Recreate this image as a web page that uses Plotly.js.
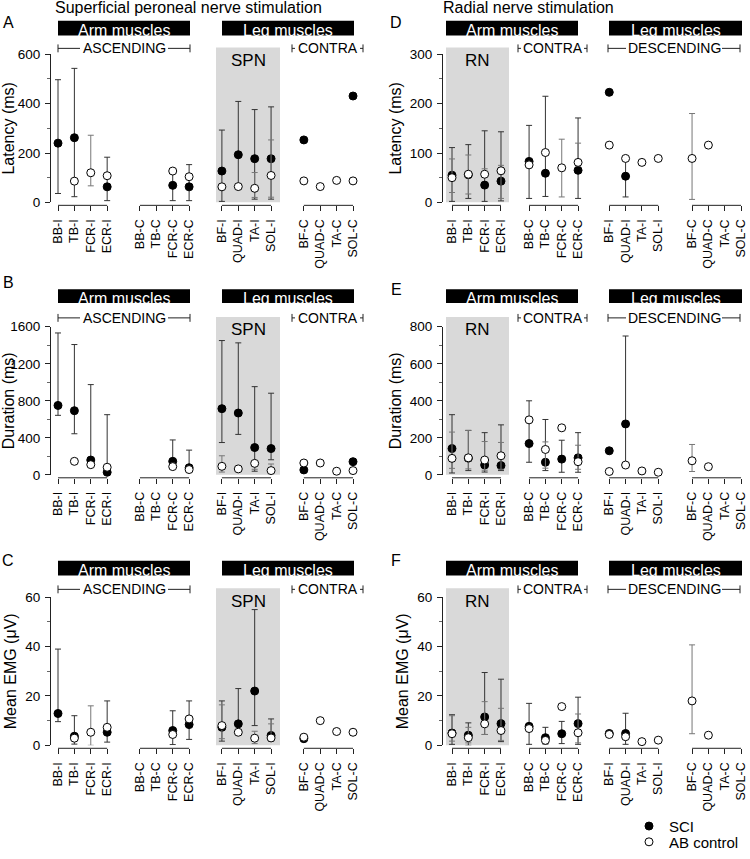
<!DOCTYPE html>
<html>
<head>
<meta charset="utf-8">
<script src="https://cdn.plot.ly/plotly-3.0.1.min.js"></script>
<style>
  html, body { margin: 0; padding: 0; background: #fff; overflow: hidden; }
  #plot { width: 750px; height: 859px; }
</style>
</head>
<body>
<div id="plot"></div>
<script>
var muscles = ['BB-I','TB-I','FCR-I','ECR-I','BB-C','TB-C','FCR-C','ECR-C',
               'BF-I','QUAD-I','TA-I','SOL-I','BF-C','QUAD-C','TA-C','SOL-C'];

// A - latency, superficial peroneal nerve
var latSpnSci   = [240, 262, null, 63, null, null, 69, 63, 127, 193, 177, 177, 253, null, null, 431];
var latSpnSciLo = [36, 23, null, 7, null, null, 7, 7, 4, 64, 13, 13, null, null, null, null];
var latSpnSciHi = [497, 543, null, 183, null, null, 118, 153, 293, 409, 376, 387, null, null, null, null];
var latSpnAb    = [null, 86, 120, 108, null, null, 127, 104, 63, 64, 57, 109, 87, 64, 89, 87];
var latSpnAbLo  = [null, null, 67, null, null, null, null, null, null, null, 20, 21, null, null, null, null];
var latSpnAbHi  = [null, null, 272, null, null, null, null, null, null, null, 121, 253, null, null, null, null];

// B - duration, superficial peroneal nerve
var durSpnSci   = [750, 693, 160, 28, null, null, 146, 77, 715, 668, 295, 284, 53, null, null, 142];
var durSpnSciLo = [643, 444, 160, 28, null, null, 146, 77, 349, 437, 39, 163, null, null, null, null];
var durSpnSciHi = [1533, 1408, 975, 650, null, null, 377, 267, 1451, 1426, 953, 882, null, null, null, null];
var durSpnAb    = [null, 146, 110, 82, null, null, 89, 57, 92, 64, 124, 46, 128, 128, 39, 46];
var durSpnAbLo  = [null, null, null, null, null, null, null, null, 30, null, 60, 46, null, null, null, null];
var durSpnAbHi  = [null, null, null, null, null, null, null, null, 206, null, 150, 117, null, null, null, null];

// C - mean EMG, superficial peroneal nerve
var emgSpnSci   = [12.9, 3.7, null, 5.3, null, null, 6, 8.4, 7.3, 8.7, 22, 4, 2.7, null, null, null];
var emgSpnSciLo = [9.6, 0.5, null, 1.3, null, null, 0.3, 2.4, 1.7, 5.3, 8, 1.7, null, null, null, null];
var emgSpnSciHi = [39, 12, null, 18, null, null, 14, 18, 18, 23, 55, 10.7, null, null, null, null];
var emgSpnAb    = [null, 2.9, 5.3, 7.3, null, null, 4.4, 10.7, 8, 5.3, 2.9, 3, 3.3, 10, 5.6, 5.3];
var emgSpnAbLo  = [null, null, 0, null, null, null, null, null, 2.7, null, 0.7, 3, null, null, null, null];
var emgSpnAbHi  = [null, null, 16, null, null, null, null, null, 16.4, null, 5.7, 8.7, null, null, null, null];

// D - latency, radial nerve
var latRnSci   = [55, 56, 35, 43, 83, 59, null, 65, 223, 53, null, null, null, null, null, null];
var latRnSciLo = [2, 8, 2, 3, 8, 12, null, 8, null, 11, null, null, null, null, null, null];
var latRnSciHi = [111, 117, 145, 143, 156, 215, null, 171, null, 89, null, null, null, null, null, null];
var latRnAb    = [50, 57, 57, 64, 76, 101, 70, 81, 116, 89, 81, 89, 89, 116, null, null];
var latRnAbLo  = [20, 17, 57, 8, null, null, 11, 81, null, null, null, null, 6, null, null, null];
var latRnAbHi  = [88, 96, 68, 75, null, null, 128, 120, null, null, null, null, 180, null, null, null];

// E - duration, radial nerve
var durRnSci   = [142, 90, 53, 50, 169, 68, 85, 92, 130, 275, null, null, null, null, null, null];
var durRnSciLo = [10, 23, 15, 23, 68, 23, 14, 14, null, 53, null, null, null, null, null, null];
var durRnSciHi = [325, 240, 228, 270, 400, 299, 187, 228, null, 750, null, null, null, null, null, null];
var durRnAb    = [89, 92, 80, 103, 297, 137, 254, 71, 18, 53, 21, 14, 76, 44, null, null];
var durRnAbLo  = [35, 32, 25, 30, null, 36, null, 30, null, null, null, null, 18, null, null, null];
var durRnAbHi  = [231, 240, 180, 175, null, 178, null, 160, null, null, null, null, 164, null, null, null];

// F - mean EMG, radial nerve
var emgRnSci   = [5, 4.1, 11.5, 8.8, 7.7, 3.1, 4.7, 8.8, 4.8, 4.8, null, null, null, null, null, null];
var emgRnSciLo = [0.4, 0, 4.4, 1.5, 0.4, 0.5, 0.7, 0.4, null, 0.4, null, null, null, null, null, null];
var emgRnSciHi = [12.4, 9.1, 29.5, 26.8, 17, 7.3, 9.7, 19.5, null, 13, null, null, null, null, null, null];
var emgRnAb    = [4.7, 3.1, 8.7, 6, 6.8, 2, 15.7, 5.1, 4.4, 3.5, 1.5, 2.1, 18, 4.1, null, null];
var emgRnAbLo  = [1.7, 1, 4.4, 2, null, null, null, 1, null, null, null, null, 4.7, null, null, null];
var emgRnAbHi  = [12, 7.3, 17.7, 15, null, null, null, 12.7, null, null, null, null, 40.7, null, null, null];

var FONT = 'Liberation Sans, Arial, sans-serif';
var W = 750, H = 859;
function px(x) { return x / W; }
function py(y) { return 1 - y / H; }

// column geometry (pixels)
var cols = [
  { dom: [51, 360], x0: 58, unit: 16.39, groups: [0, 5, 10, 15], shade: [216, 280], shadeText: 'SPN',
    arm: [58, 190], leg: [222, 354], longBr: [58, 190], longText: 'ASCENDING', longHalf: 44, contra: [292, 363] },
  { dom: [443, 745], x0: 452, unit: 16.33, groups: [0, 4.72, 9.63, 14.7], shade: [446, 509], shadeText: 'RN',
    arm: [446, 578], leg: [609, 742], longBr: [608, 740], longText: 'DESCENDING', longHalf: 48, contra: [518, 587] }
];
var rows = [
  { top: 55, bot: 205, axisY: 208, boxT: 21, boxB: 36, brY: 49, shadeT: 48, letterY: [23, 23] },
  { top: 331, bot: 481, axisY: 484, boxT: 293, boxB: 307, brY: 322, shadeT: 321, letterY: [286, 293] },
  { top: 605, bot: 755, axisY: 758, boxT: 568, boxB: 583, brY: 597, shadeT: 596, letterY: [568, 568] }
];

var panels = [
  { col: 0, row: 0, letter: 'A', ytitle: 'Latency (ms)', range: [0, 600], dtick: 200,
    d: [latSpnSci, latSpnSciLo, latSpnSciHi, latSpnAb, latSpnAbLo, latSpnAbHi] },
  { col: 0, row: 1, letter: 'B', ytitle: 'Duration (ms)', range: [0, 1600], dtick: 400,
    d: [durSpnSci, durSpnSciLo, durSpnSciHi, durSpnAb, durSpnAbLo, durSpnAbHi] },
  { col: 0, row: 2, letter: 'C', ytitle: 'Mean EMG (\u03bcV)', range: [0, 60], dtick: 20,
    d: [emgSpnSci, emgSpnSciLo, emgSpnSciHi, emgSpnAb, emgSpnAbLo, emgSpnAbHi] },
  { col: 1, row: 0, letter: 'D', ytitle: 'Latency (ms)', range: [0, 300], dtick: 100,
    d: [latRnSci, latRnSciLo, latRnSciHi, latRnAb, latRnAbLo, latRnAbHi] },
  { col: 1, row: 1, letter: 'E', ytitle: 'Duration (ms)', range: [0, 800], dtick: 200,
    d: [durRnSci, durRnSciLo, durRnSciHi, durRnAb, durRnAbLo, durRnAbHi] },
  { col: 1, row: 2, letter: 'F', ytitle: 'Mean EMG (\u03bcV)', range: [0, 60], dtick: 20,
    d: [emgRnSci, emgRnSciLo, emgRnSciHi, emgRnAb, emgRnAbLo, emgRnAbHi] }
];

function errs(v, lo, hi) {
  var plus = [], minus = [];
  for (var i = 0; i < v.length; i++) {
    plus.push(v[i] != null && hi[i] != null ? hi[i] - v[i] : 0);
    minus.push(v[i] != null && lo[i] != null ? v[i] - lo[i] : 0);
  }
  return { plus: plus, minus: minus };
}

var traces = [];
var layout = {
  width: W, height: H,
  margin: { l: 0, r: 0, t: 0, b: 0 },
  paper_bgcolor: '#fff', plot_bgcolor: 'rgba(0,0,0,0)',
  font: { family: FONT, color: '#000', size: 13 },
  showlegend: true,
  legend: { x: px(629), y: py(837), xanchor: 'left', yanchor: 'middle', font: { size: 15, family: FONT },
            itemwidth: 30, bgcolor: 'rgba(0,0,0,0)' },
  legend2: { x: px(629), y: py(853), xanchor: 'left', yanchor: 'middle', font: { size: 15, family: FONT },
             itemwidth: 30, bgcolor: 'rgba(0,0,0,0)' },
  shapes: [], annotations: []
};

function line(x0, y0, x1, y1) {
  layout.shapes.push({ type: 'line', xref: 'paper', yref: 'paper', x0: px(x0), y0: py(y0), x1: px(x1), y1: py(y1),
    line: { color: '#222', width: 1 } });
}
function text(t, x, y, size, color) {
  layout.annotations.push({ text: t, xref: 'paper', yref: 'paper', x: px(x), y: py(y), showarrow: false,
    font: { family: FONT, size: size, color: color || '#000' }, xanchor: 'center', yanchor: 'middle' });
}

panels.forEach(function(p, k) {
  var c = cols[p.col], r = rows[p.row];
  var sfx = k === 0 ? '' : String(k + 1);
  var xa = 'x' + sfx, ya = 'y' + sfx;
  var xpos = muscles.map(function(m, i) { return c.groups[Math.floor(i / 4)] + (i % 4); });

  var es = errs(p.d[0], p.d[1], p.d[2]);
  var ea = errs(p.d[3], p.d[4], p.d[5]);
  traces.push({
    x: xpos, y: p.d[0], xaxis: xa, yaxis: ya, type: 'scatter', mode: 'markers', name: 'SCI',
    showlegend: k === 0, legend: 'legend', cliponaxis: false,
    marker: { size: 8, color: '#000', line: { color: '#000', width: 1 } },
    error_y: { type: 'data', symmetric: false, array: es.plus, arrayminus: es.minus,
               color: '#333', thickness: 1, width: 3 }
  });
  traces.push({
    x: xpos, y: p.d[3], xaxis: xa, yaxis: ya, type: 'scatter', mode: 'markers', name: 'AB control',
    showlegend: k === 0, legend: 'legend2', cliponaxis: false,
    marker: { size: 8, color: '#fff', line: { color: '#000', width: 1 } },
    error_y: { type: 'data', symmetric: false, array: ea.plus, arrayminus: ea.minus,
               color: '#777', thickness: 1, width: 3 }
  });

  var rng = [(c.dom[0] - c.x0) / c.unit, (c.dom[1] - c.x0) / c.unit];
  layout['xaxis' + sfx] = {
    domain: [px(c.dom[0]), px(c.dom[1])], range: rng, anchor: 'free', position: py(r.axisY),
    showline: false, showgrid: false, zeroline: false,
    tickmode: 'array', tickvals: xpos, ticktext: muscles, tickangle: -90,
    ticks: 'outside', ticklen: 5, tickcolor: '#222', ticklabelstandoff: 3,
    tickfont: { size: 12.5, family: FONT }
  };
  layout['yaxis' + sfx] = {
    domain: [py(r.bot), py(r.top)], range: p.range, anchor: xa, dtick: p.dtick,
    showline: true, linecolor: '#222', showgrid: false, zeroline: false,
    ticks: 'outside', ticklen: 5, tickcolor: '#222', tickfont: { size: 13.5, family: FONT },
    ticklabelstandoff: 2,
    minor: { ticks: 'outside', ticklen: 3, dtick: p.dtick / 2, tickcolor: '#666' },
    title: { text: p.ytitle, font: { size: 16, family: FONT }, standoff: 4 }
  };

  // broken x-axis line under each group
  for (var g = 0; g < 4; g++) {
    layout.shapes.push({ type: 'line', xref: xa, yref: 'paper',
      x0: xpos[g * 4], x1: xpos[g * 4 + 3], y0: py(r.axisY), y1: py(r.axisY),
      line: { color: '#222', width: 1 } });
  }

  // grey stimulation region
  layout.shapes.push({ type: 'rect', xref: 'paper', yref: 'paper', layer: 'below',
    x0: px(c.shade[0]), x1: px(c.shade[1]), y0: py(r.bot), y1: py(r.shadeT),
    fillcolor: '#d9d9d9', line: { width: 0 } });
  text(c.shadeText, (c.shade[0] + c.shade[1]) / 2, r.shadeT + 13, 17);

  // black header boxes
  [[c.arm, 'Arm muscles'], [c.leg, 'Leg muscles']].forEach(function(b) {
    layout.shapes.push({ type: 'rect', xref: 'paper', yref: 'paper',
      x0: px(b[0][0]), x1: px(b[0][1]), y0: py(r.boxB), y1: py(r.boxT),
      fillcolor: '#000', line: { width: 0 } });
    text(b[1], (b[0][0] + b[0][1]) / 2, (r.boxT + r.boxB) / 2 + 2.5, 16, '#fff');
  });

  // ASCENDING / DESCENDING bracket
  var L = c.longBr[0], R = c.longBr[1], mid = (L + R) / 2;
  line(L, r.brY - 4, L, r.brY + 4);
  line(R, r.brY - 4, R, r.brY + 4);
  line(L, r.brY, mid - c.longHalf, r.brY);
  line(mid + c.longHalf, r.brY, R, r.brY);
  text(c.longText, mid, r.brY, 14);

  // CONTRA bracket
  var cl = c.contra[0], cr = c.contra[1];
  line(cl, r.brY - 4, cl, r.brY + 4);
  line(cr, r.brY - 4, cr, r.brY + 4);
  line(cl, r.brY, cl + 3, r.brY);
  line(cr - 3, r.brY, cr, r.brY);
  text('CONTRA', (cl + cr) / 2, r.brY, 14);

  // panel letter
  text(p.letter, p.col === 0 ? 8 : 396, r.letterY[p.col], 16);
});

text('Superficial peroneal nerve stimulation', 188, 8, 16);
text('Radial nerve stimulation', 528, 8, 16);

Plotly.newPlot('plot', traces, layout, { staticPlot: true });
</script>
</body>
</html>
